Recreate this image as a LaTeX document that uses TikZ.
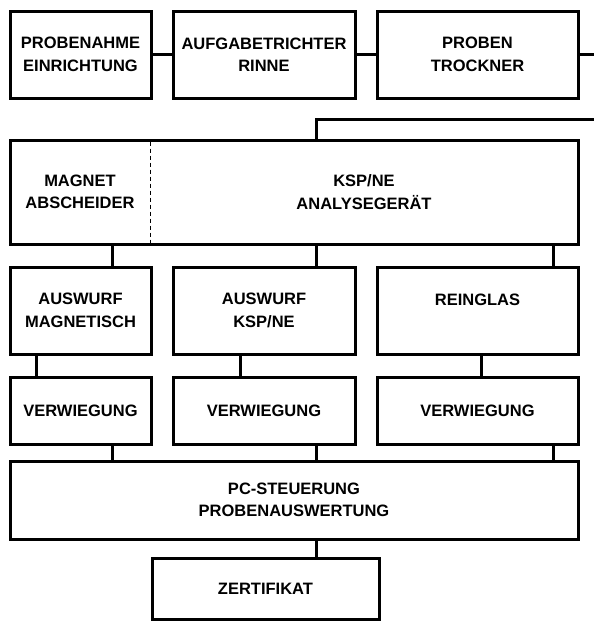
\documentclass[tikz,border=0pt]{standalone}
\usepackage{fontspec}
\setmainfont{Liberation Sans}
\begin{document}
\begin{tikzpicture}[x=1pt, y=-1pt, line width=3pt,
    box/.style={draw, align=center, inner sep=0pt, font=\fontsize{16.5}{22.5}\selectfont\bfseries},
    lbl/.style={align=center, inner sep=0pt, font=\fontsize{16.5}{22.5}\selectfont\bfseries}]
    \useasboundingbox (0,0) rectangle (594,621);
    \node[box, minimum width=141pt, minimum height=87pt] (nahme) at (80.5,54.5) {PROBENAHME\\EINRICHTUNG};
    \node[box, minimum width=182pt, minimum height=87pt] (rinne) at (264,54.5) {AUFGABETRICHTER\\RINNE};
    \node[box, minimum width=201pt, minimum height=87pt] (trockner) at (477.5,54.5) {PROBEN\\TROCKNER};
    \node[box, minimum width=568pt, minimum height=104pt] (analyse) at (294,192) {};
    \node[lbl] (magnet) at (80,192) {MAGNET\\ABSCHEIDER};
    \node[lbl] (ksp) at (364,192) {KSP/NE\\ANALYSEGERÄT};
    \node[box, minimum width=141pt, minimum height=87pt] (ausmag) at (80.5,310.5) {AUSWURF\\MAGNETISCH};
    \node[box, minimum width=182pt, minimum height=87pt] (ausksp) at (264,310.5) {AUSWURF\\KSP/NE};
    \node[box, minimum width=201pt, minimum height=87pt] (rein) at (477.5,310.5) {REINGLAS\\\mbox{}};
    \node[box, minimum width=141pt, minimum height=67pt] (wieg1) at (80.5,410.5) {VERWIEGUNG};
    \node[box, minimum width=182pt, minimum height=67pt] (wieg2) at (264,410.5) {VERWIEGUNG};
    \node[box, minimum width=201pt, minimum height=67pt] (wieg3) at (477.5,410.5) {VERWIEGUNG};
    \node[box, minimum width=568pt, minimum height=78pt] (pc) at (294,500) {PC-STEUERUNG\\PROBENAUSWERTUNG};
    \node[box, minimum width=227pt, minimum height=61pt] (zert) at (265.5,588.5) {ZERTIFIKAT};
    \coordinate (aus) at (600,54.5);
    \coordinate (ein) at (600,119);
    \coordinate (xa) at (112,0);
    \coordinate (xb) at (316,0);
    \coordinate (xc) at (553,0);
    \coordinate (xd) at (36,0);
    \coordinate (xe) at (240,0);
    \coordinate (xf) at (481,0);
    \coordinate (xs) at (150,0);
    \draw (nahme) -- (rinne);
    \draw (rinne) -- (trockner);
    \draw (trockner.east) -- (aus);
    \draw (ein) -- (ein -| xb) -- (xb |- analyse.north);
    \draw[line width=1pt, dash pattern=on 4pt off 3pt, shorten >=3pt, shorten <=3pt] (xs |- analyse.north) -- (xs |- analyse.south);
    \draw (xa |- analyse.south) -- (xa |- ausmag.north);
    \draw (xb |- analyse.south) -- (xb |- ausksp.north);
    \draw (xc |- analyse.south) -- (xc |- rein.north);
    \draw (xd |- ausmag.south) -- (xd |- wieg1.north);
    \draw (xe |- ausksp.south) -- (xe |- wieg2.north);
    \draw (xf |- rein.south) -- (xf |- wieg3.north);
    \draw (xa |- wieg1.south) -- (xa |- pc.north);
    \draw (xb |- wieg2.south) -- (xb |- pc.north);
    \draw (xc |- wieg3.south) -- (xc |- pc.north);
    \draw (xb |- pc.south) -- (xb |- zert.north);
\end{tikzpicture}
\end{document}
